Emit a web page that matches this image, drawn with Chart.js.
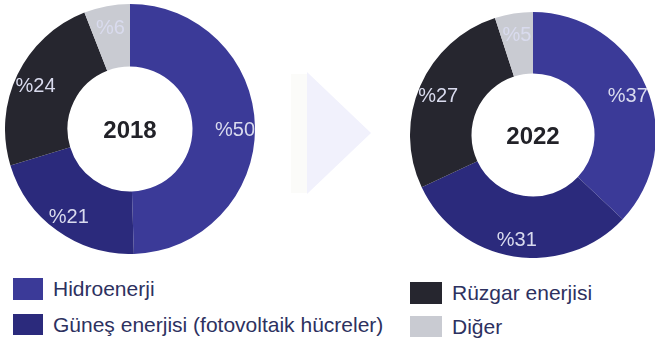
<!DOCTYPE html>
<html lang="tr">
<head>
<meta charset="utf-8">
<script src="https://cdn.jsdelivr.net/npm/chart.js@4.4.1/dist/chart.umd.min.js"></script>
<style>
  html, body { margin: 0; padding: 0; background: #ffffff; }
  #stage { position: relative; width: 655px; height: 348px; overflow: hidden; background: #ffffff; font-family: "Liberation Sans", Arial, sans-serif; }
  .donut { position: absolute; }
  #arrowShaft { position: absolute; left: 291px; top: 74px; width: 16px; height: 119px; background: #fbfbf9; }
  #arrowHead { position: absolute; left: 307px; top: 72px; width: 64px; height: 122px; background: #f1f1fc; clip-path: polygon(0 0, 100% 50%, 0 100%); }
  .legend-item { position: absolute; display: flex; align-items: center; font-size: 21px; color: #2d3160; white-space: nowrap; }
  .legend-item .sw { display: inline-block; margin-right: 10px; }
</style>
</head>
<body>
<div id="stage">
  <div id="arrowShaft"></div>
  <div id="arrowHead"></div>
  <canvas id="c2018" class="donut" width="250" height="250" style="left:5px; top:4px;"></canvas>
  <canvas id="c2022" class="donut" width="246" height="246" style="left:410px; top:12px;"></canvas>
  <div id="legend"></div>
</div>
<script>
// Energy sources and their shares (%) per year
const categories = ["Hidroenerji", "Güneş enerjisi (fotovoltaik hücreler)", "Rüzgar enerjisi", "Diğer"];
const years = ["2018", "2022"];
const values2018 = [50, 21, 24, 6];
const values2022 = [37, 31, 27, 5];
const colors = ["#3b3a98", "#2b2a7c", "#26262f", "#c9cbd2"];

// Percentage labels on each slice plus the year in the hole
const sliceLabels = {
  id: "sliceLabels",
  afterDatasetsDraw(chart, args, opts) {
    const ctx = chart.ctx;
    const meta = chart.getDatasetMeta(0);
    const data = chart.data.datasets[0].data;
    ctx.save();
    ctx.textAlign = "center";
    ctx.textBaseline = "middle";
    ctx.font = "20px 'Liberation Sans', Arial, sans-serif";
    ctx.fillStyle = "#d9dbee";
    meta.data.forEach((arc, i) => {
      const p = arc.getProps(["x", "y", "startAngle", "endAngle", "innerRadius", "outerRadius"], true);
      const mid = (p.startAngle + p.endAngle) / 2;
      const r = p.innerRadius + (p.outerRadius - p.innerRadius) * opts.radial;
      ctx.fillText("%" + data[i], p.x + Math.cos(mid) * r, p.y + Math.sin(mid) * r + 3);
    });
    const a = meta.data[0];
    ctx.font = "bold 24px 'Liberation Sans', Arial, sans-serif";
    ctx.fillStyle = "#222228";
    ctx.fillText(opts.title, a.x, a.y + opts.titleOffset);
    ctx.restore();
  }
};

function makeDonut(id, values, title, titleOffset) {
  return new Chart(document.getElementById(id), {
    type: "doughnut",
    data: {
      labels: categories,
      datasets: [{ data: values, backgroundColor: colors, borderWidth: 0 }]
    },
    options: {
      responsive: false,
      animation: false,
      cutout: "50%",
      layout: { padding: 0 },
      plugins: {
        legend: { display: false },
        tooltip: { enabled: false },
        sliceLabels: { title: title, radial: 0.68, titleOffset: titleOffset }
      }
    },
    plugins: [sliceLabels]
  });
}

makeDonut("c2018", values2018, years[0], 2);
makeDonut("c2022", values2022, years[1], 2);

// Legend in two columns below the charts
const legendSpots = [
  { left: 13, top: 278, w: 30, h: 22 },
  { left: 13, top: 314, w: 30, h: 21 },
  { left: 410, top: 282, w: 32, h: 22 },
  { left: 410, top: 316, w: 32, h: 21 }
];
const legend = document.getElementById("legend");
categories.forEach((name, i) => {
  const s = legendSpots[i];
  const item = document.createElement("div");
  item.className = "legend-item";
  item.style.left = s.left + "px";
  item.style.top = s.top + "px";
  item.style.height = s.h + "px";
  const sw = document.createElement("span");
  sw.className = "sw";
  sw.style.width = s.w + "px";
  sw.style.height = s.h + "px";
  sw.style.background = colors[i];
  const tx = document.createElement("span");
  tx.textContent = name;
  item.appendChild(sw);
  item.appendChild(tx);
  legend.appendChild(item);
});
</script>
</body>
</html>
